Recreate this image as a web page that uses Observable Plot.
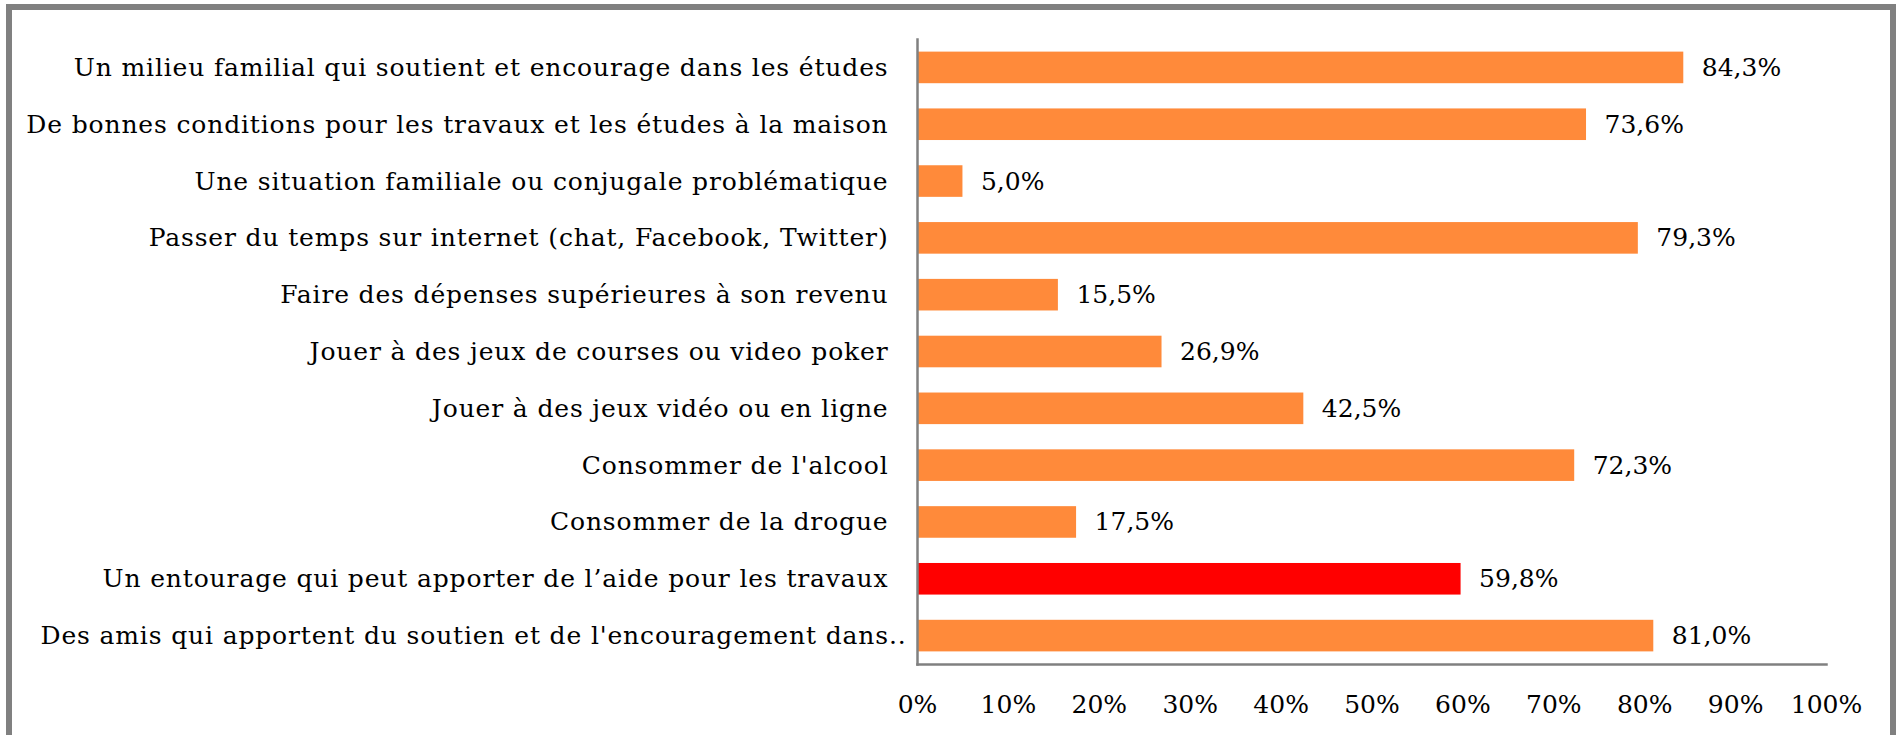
<!DOCTYPE html>
<html><head><meta charset="utf-8">
<script src="https://cdn.jsdelivr.net/npm/d3@7"></script>
<script src="https://cdn.jsdelivr.net/npm/@observablehq/plot@0.6"></script>
<style>
html,body{margin:0;padding:0;background:#fff;width:1900px;height:735px;overflow:hidden;}
#chart{position:absolute;left:0;top:0;}
#frame{position:absolute;left:6px;top:4px;width:1878px;height:800px;border:6px solid #808080;pointer-events:none;}
g[aria-label="y-axis tick label"] text{letter-spacing:0.85px;}
</style></head><body>
<div id="chart"></div><div id="frame"></div>
<script>
const categories = [
  "Un milieu familial qui soutient et encourage dans les études",
  "De bonnes conditions pour les travaux et les études à la maison",
  "Une situation familiale ou conjugale problématique",
  "Passer du temps sur internet (chat, Facebook, Twitter)",
  "Faire des dépenses supérieures à son revenu",
  "Jouer à des jeux de courses ou video poker",
  "Jouer à des jeux vidéo ou en ligne",
  "Consommer de l'alcool",
  "Consommer de la drogue",
  "Un entourage qui peut apporter de l’aide pour les travaux",
  "Des amis qui apportent du soutien et de l'encouragement dans.."
];
const values = [84.3, 73.6, 5.0, 79.3, 15.5, 26.9, 42.5, 72.3, 17.5, 59.8, 81.0];
const highlighted = ["Un entourage qui peut apporter de l’aide pour les travaux"];
const xTicks = [0, 10, 20, 30, 40, 50, 60, 70, 80, 90, 100];

const data = categories.map((c, i) => ({category: c, value: values[i]}));
const fmt = v => v.toFixed(1).replace(".", ",") + "%";

const chart = Plot.plot({
  width: 1900, height: 735,
  marginLeft: 917, marginRight: 74, marginTop: 39, marginBottom: 71,
  style: {fontFamily: "DejaVu Serif", fontSize: "25px", color: "#000", background: "transparent", overflow: "visible"},
  x: {domain: [0, 100]},
  y: {domain: categories, paddingInner: 0.444, paddingOuter: 0.222, round: false},
  marks: [
    Plot.barX(data, {x: "value", y: "category", fill: d => highlighted.includes(d.category) ? "#FF0000" : "#FF8A3A", insetLeft: 1}),
    Plot.text(data, {x: "value", y: "category", text: d => fmt(d.value), textAnchor: "start", dx: 18, fill: "#000"}),
    Plot.frame({anchor: "left", stroke: "#808080", strokeWidth: 2.5}),
    Plot.frame({anchor: "bottom", stroke: "#808080", strokeWidth: 2.5}),
    Plot.axisX(xTicks, {anchor: "bottom", tickSize: 0, tickPadding: 31, tickFormat: d => d + "%", label: null}),
    Plot.axisY(categories.slice(0, 10), {anchor: "left", tickSize: 0, tickPadding: 29, label: null}),
    Plot.axisY(categories.slice(10), {anchor: "left", tickSize: 0, tickPadding: 11, label: null})
  ]
});
document.getElementById("chart").appendChild(chart);
</script>
</body></html>
